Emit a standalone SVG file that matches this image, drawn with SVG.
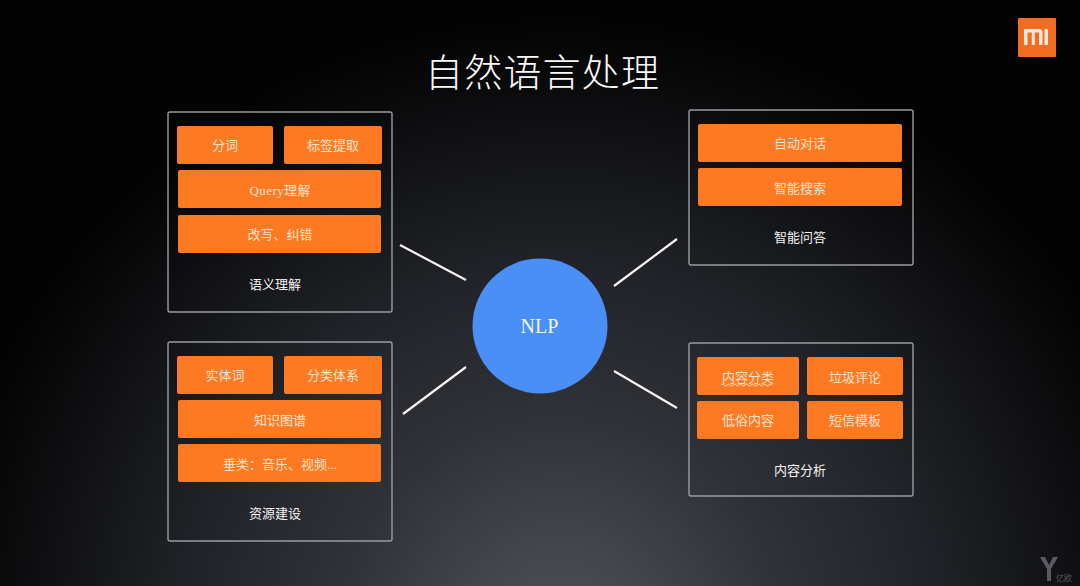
<svg xmlns="http://www.w3.org/2000/svg" width="1080" height="586" viewBox="0 0 1080 586">
<defs>
<radialGradient id="bg" gradientUnits="userSpaceOnUse" cx="560" cy="640" r="620">
<stop offset="0" stop-color="#505058"/>
<stop offset="0.16" stop-color="#44454c"/>
<stop offset="0.36" stop-color="#313238"/>
<stop offset="0.6" stop-color="#222328"/>
<stop offset="0.75" stop-color="#16171b"/>
<stop offset="0.92" stop-color="#09090a"/>
<stop offset="1" stop-color="#030303"/>
</radialGradient>
</defs>
<style>
text{font-family:"Liberation Serif","Noto Sans CJK SC",serif;text-anchor:middle}
.box{fill:none;stroke:#9a9ca1;stroke-width:1.4}
.o{fill:#fd7a22}
.t{fill:#fbe3cf;font-size:13px}
.c{fill:#f2f2f2;font-size:13px}
.ln{stroke:#f4f4f4;stroke-width:2.2;fill:none}
</style>
<rect width="1080" height="586" fill="url(#bg)"/>
<text x="542" y="86" font-size="38" font-weight="300" fill="#fafafa" textLength="234">自然语言处理</text>
<g id="logo">
<rect x="1018" y="18" width="38" height="39" rx="1" fill="#f26d22"/>
<path d="M1024 29h15q3.500 0 3.500 3.500v12.500h-3.500v-12.500h-4.200v12.500h-3v-12.500h-4.300v12.500h-3.500zM1044.500 29h3.500v16h-3.500z" fill="#f8e8dc"/>
</g>
<g id="connectors">
<path class="ln" d="M400 245L466 280M677 239L614 286M466 367L403 414M614 371L677 408"/>
</g>
<g id="nlp">
<circle cx="540" cy="326" r="67.500" fill="#4a8ff5"/>
<text x="539.500" y="333" font-size="20" fill="#f4f6fb">NLP</text>
</g>
<g id="semantic">
<rect class="box" x="168" y="112" width="224" height="200" rx="2"/>
<rect class="o" x="177" y="126" width="96" height="38" rx="2"/>
<rect class="o" x="284" y="126" width="98" height="38" rx="2"/>
<rect class="o" x="178" y="170" width="203" height="38" rx="2"/>
<rect class="o" x="178" y="215" width="203" height="38" rx="2"/>
<text class="t" x="225" y="150">分词</text>
<text class="t" x="333" y="150">标签提取</text>
<text class="t" x="280" y="195" textLength="61">Query理解</text>
<text class="t" x="280" y="239">改写、纠错</text>
<text class="c" x="275" y="289">语义理解</text>
</g>
<g id="resource">
<rect class="box" x="168" y="342" width="224" height="199" rx="2"/>
<rect class="o" x="177" y="356" width="96" height="38" rx="2"/>
<rect class="o" x="284" y="356" width="98" height="38" rx="2"/>
<rect class="o" x="178" y="400" width="203" height="38" rx="2"/>
<rect class="o" x="178" y="444" width="203" height="38" rx="2"/>
<text class="t" x="225" y="380">实体词</text>
<text class="t" x="333" y="380">分类体系</text>
<text class="t" x="280" y="425">知识图谱</text>
<text class="t" x="280" y="469">垂类：音乐、视频...</text>
<text class="c" x="275" y="518">资源建设</text>
</g>
<g id="qa">
<rect class="box" x="689" y="110" width="224" height="155" rx="2"/>
<rect class="o" x="698" y="124" width="204" height="38" rx="2"/>
<rect class="o" x="698" y="168" width="204" height="38" rx="2"/>
<text class="t" x="800" y="148">自动对话</text>
<text class="t" x="800" y="193">智能搜索</text>
<text class="c" x="800" y="242">智能问答</text>
</g>
<g id="content">
<rect class="box" x="689" y="343" width="224" height="153" rx="2"/>
<rect class="o" x="697" y="357" width="102" height="38" rx="2"/>
<rect class="o" x="807" y="357" width="96" height="38" rx="2"/>
<rect class="o" x="697" y="401" width="102" height="38" rx="2"/>
<rect class="o" x="807" y="401" width="96" height="38" rx="2"/>
<text class="t" x="748" y="382">内容分类</text>
<text class="t" x="855" y="382">垃圾评论</text>
<text class="t" x="748" y="425">低俗内容</text>
<text class="t" x="855" y="425">短信模板</text>
<path d="M721 385q1.500-2 3 0t3 0t3 0t3 0t3 0t3 0t3 0t3 0t3 0t3 0t3 0t3 0t3 0t3 0t3 0t3 0t3 0" fill="none" stroke="#fbe3cf" stroke-width="0.900"/>
<text class="c" x="800" y="475">内容分析</text>
</g>
<g id="watermark" fill="#5a5a62">
<path d="M1040 557h5l4 8 4-8h5l-7 12v12h-4v-12z"/>
<text x="1064" y="581" font-size="8">亿欧</text>
</g>
</svg>
